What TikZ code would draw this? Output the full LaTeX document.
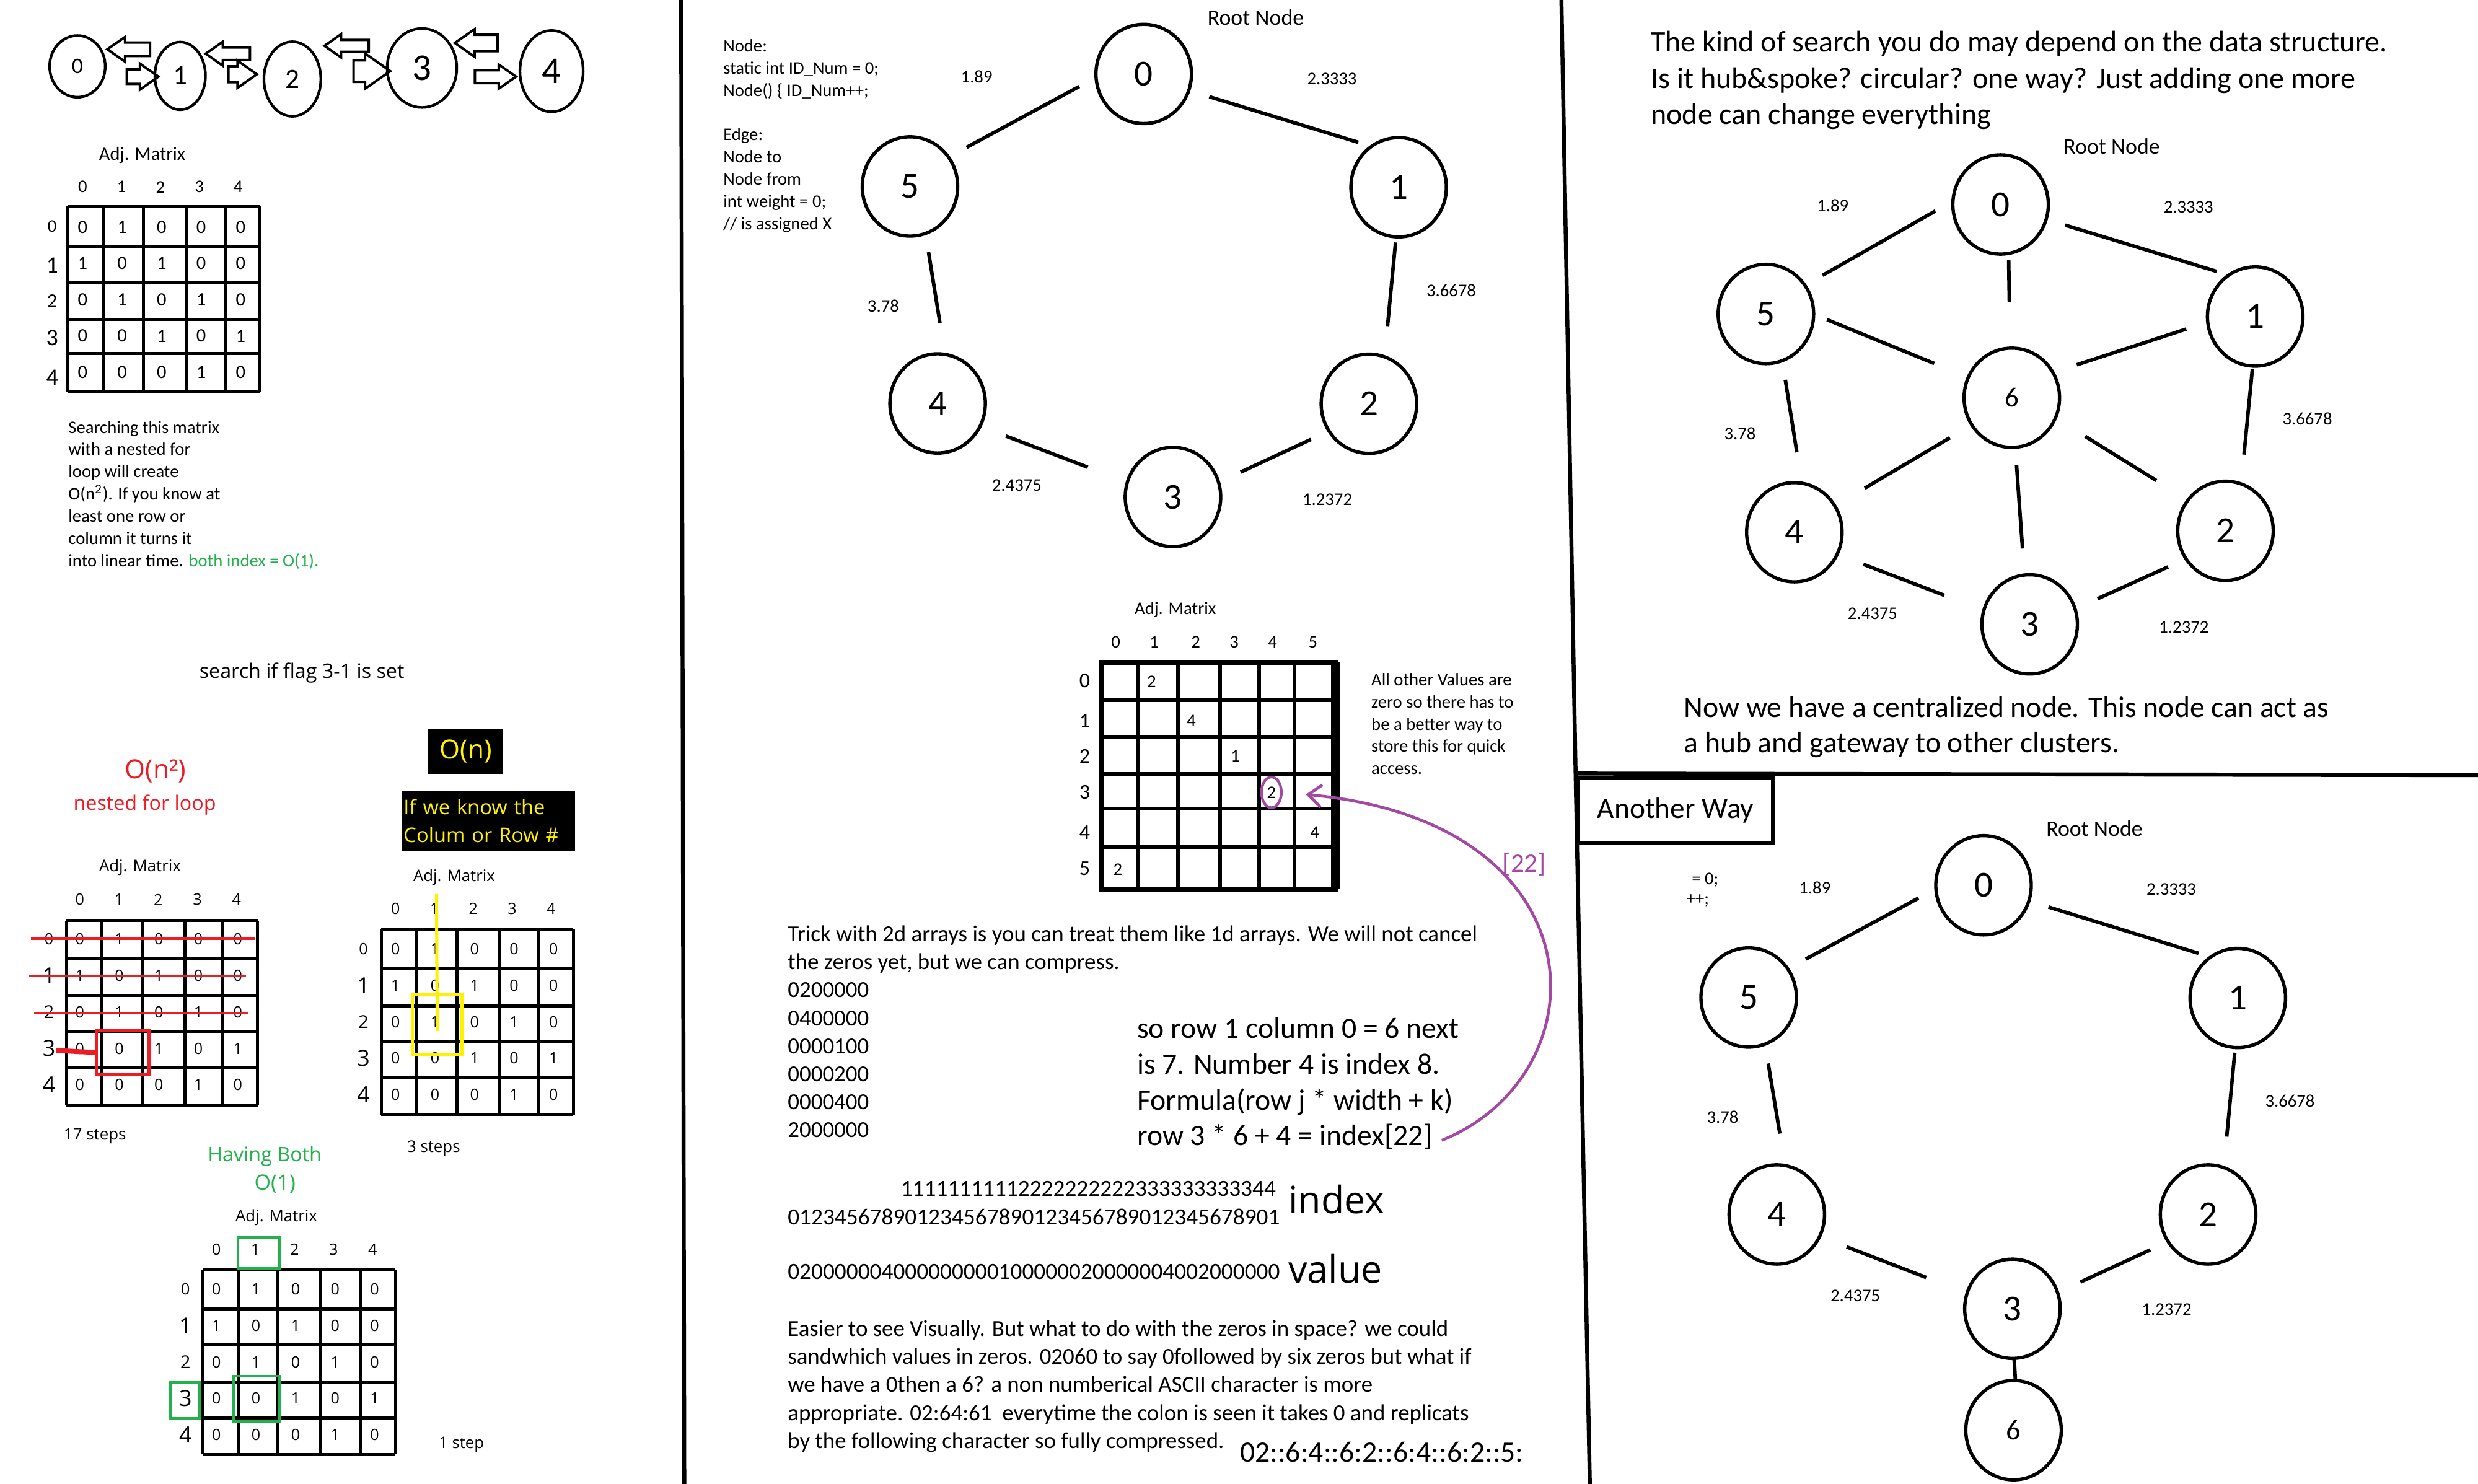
\documentclass[tikz,border=0pt]{standalone}
\usepackage{fontspec}
\setmainfont{Carlito}
\newfontfamily\segoe{Open Sans}
\usetikzlibrary{shapes.geometric,shapes.arrows,arrows.meta}
\definecolor{paintred}{HTML}{ED1C24}
\definecolor{paintyellow}{HTML}{FFF200}
\definecolor{paintgreen}{HTML}{22B14C}
\definecolor{paintpurple}{HTML}{A349A4}
\tikzset{
  gnode/.style={ellipse, draw, line width=1.5pt, inner sep=0pt, minimum width=1.51cm, minimum height=1.57cm, font=\fontsize{16.5}{18}\selectfont},
  lnode/.style={ellipse, draw, line width=1.2pt, inner sep=0pt},
  blockarrow/.style 2 args={single arrow, draw, line width=1.1pt, single arrow tip angle=70, single arrow head extend=0.09cm, inner sep=#1, minimum height=#2},
  edge/.style={line width=1.6pt},
  weight/.style={inner sep=0pt, font=\fontsize{8}{10}\selectfont},
  note/.style={inner sep=0pt, anchor=north west, align=left},
  gridline/.style={line width=1.4pt},
  cell/.style={inner sep=0pt, font=\fontsize{8.5}{10}\selectfont},
  scell/.style={inner sep=0pt, font=\segoe\fontsize{7}{9}\selectfont},
  stext/.style={inner sep=0pt, font=\segoe\fontsize{7.2}{9}\selectfont},
  sepline/.style={line width=1.8pt}
}
\begin{document}
\begin{tikzpicture}[x=0.025cm, y=-0.025cm]
\fill[white] (0,0) rectangle (1568,939);
\useasboundingbox (0,0) rectangle (1568,939);

% linked list
\node[lnode, minimum width=0.88cm, minimum height=0.975cm, font=\fontsize{10}{12}\selectfont] (ln0) at (49,42) {0};
\node[lnode, minimum width=0.8cm, minimum height=1.07cm, font=\fontsize{12.6}{14}\selectfont] (ln1) at (114,48) {1};
\node[lnode, minimum width=0.9cm, minimum height=1.18cm, font=\fontsize{12.6}{14}\selectfont] (ln2) at (185,50) {2};
\node[lnode, minimum width=1.1cm, minimum height=1.25cm, font=\fontsize{17}{19}\selectfont] (ln3) at (267,43) {3};
\node[lnode, minimum width=1.0cm, minimum height=1.285cm, font=\fontsize{17}{19}\selectfont] (ln4) at (349,45) {4};
\node[blockarrow={0.0875cm}{0.675cm}, shape border rotate=180] (la01) at (84.5,31.2) {};
\node[blockarrow={0.095cm}{0.5cm}] (ra01) at (87,48.5) {};
\node[blockarrow={0.08cm}{0.7cm}, shape border rotate=180] (la12) at (147,34) {};
\node[blockarrow={0.105cm}{0.45cm}] (ra12) at (150,47) {};
\node[blockarrow={0.075cm}{0.7cm}, shape border rotate=180] (la23) at (222,29) {};
\node[blockarrow={0.15cm}{0.475cm}, single arrow head extend=0.11cm] (ra23) at (230.5,45) {};
\node[blockarrow={0.11cm}{0.675cm}, shape border rotate=180] (la34) at (305,27.2) {};
\node[blockarrow={0.0825cm}{0.65cm}] (ra34) at (310.6,48.5) {};

% adjacency matrix
\node[cell] (adjA) at (90,98.2) {Adj. Matrix};
\foreach \h [count=\ci from 0] in {0,...,4}
  \node[cell, font=\fontsize{8}{9}\selectfont] (adjAh\ci) at (52.3+24.6*\ci,118.3) {\h};
\foreach \lab/\sz/\yy in {0/8/143.2,1/10.6/168,2/9/190.5,3/10.6/213.7,4/10.6/239}
  \node[inner sep=0pt, font=\fontsize{\sz}{12}\selectfont] (adjAr\lab) at (33,\yy) {\lab};
\foreach \xx in {42.6,65.2,90.8,117.7,142.7,164.5}
  \draw[gridline] (\xx,130.6) -- (\xx,247.7);
\foreach \yy in {130.6,156.2,178.7,202.3,223.6,247.7}
  \draw[gridline] (42.6,\yy) -- (164.5,\yy);
\foreach \row [count=\ri from 0] in {{0,1,0,0,0},{1,0,1,0,0},{0,1,0,1,0},{0,0,1,0,1},{0,0,0,1,0}}
  \foreach \v [count=\ci from 0] in \row
    \node[cell] (adjA\ri\ci) at (52.3+25*\ci,143.6+23*\ri) {\v};
\node[note, font=\fontsize{8}{10}\selectfont] (searchnote) at (43,266) {Searching this matrix\\with a nested for\\loop will create\\O(n\textsuperscript{2}). If you know at\\least one row or\\column it turns it\\into linear time. \textcolor{paintgreen}{both index = O(1).}};

% search for flag 3-1
\node[inner sep=0pt, font=\segoe\fontsize{9}{11}\selectfont] (flagq) at (191,426) {search if flag 3-1 is set};
\node[inner sep=0pt, text=paintred, font=\segoe\fontsize{11.8}{14}\selectfont] (onsq) at (98.4,488) {O(n²)};
\node[inner sep=0pt, text=paintred, font=\segoe\fontsize{9}{11}\selectfont] (nested) at (91.6,509.4) {nested for loop};
\node[fill=black, text=paintyellow, inner sep=0pt, minimum width=1.19cm, minimum height=0.71cm, font=\segoe\fontsize{11.8}{14}\selectfont] (onbox) at (294.7,475.6) {O(n)};
\node[fill=black, text=paintyellow, inner xsep=1pt, inner ysep=0pt, text width=2.677cm, minimum height=0.96cm, align=left, font=\segoe\fontsize{9.1}{12.5}\selectfont] (knowbox) at (309,519.5) {If we know the\\Colum or Row \#};

% nested loop matrix
\node[stext] (adjB) at (88.6,549) {Adj. Matrix};
\foreach \h [count=\ci from 0] in {0,...,4}
  \node[scell] (adjBh\ci) at (50.5+24.8*\ci,569.3) {\h};
\foreach \lab/\sz [count=\ri from 0] in {0/7,1/10,2/8,3/10,4/10}
  \node[inner sep=0pt, font=\segoe\fontsize{\sz}{12}\selectfont] (adjBr\lab) at (31,594.3+23.05*\ri) {\lab};
\foreach \xx in {42.1,64.6,90,117.1,141.1,163}
  \draw[gridline] (\xx,582.6) -- (\xx,699.2);
\foreach \yy in {582.6,606.2,629.8,652.8,675.3,699.2}
  \draw[gridline] (42.1,\yy) -- (163,\yy);
\foreach \row [count=\ri from 0] in {{0,1,0,0,0},{1,0,1,0,0},{0,1,0,1,0},{0,0,1,0,1},{0,0,0,1,0}}
  \foreach \v [count=\ci from 0] in \row
    \node[scell] (adjB\ri\ci) at (50.5+25*\ci,594.3+23.05*\ri) {\v};
\draw[paintred, line width=1.3pt] (19.6,594) -- (161.4,594);
\draw[paintred, line width=1.3pt] (17.9,617.5) -- (155.8,617.5);
\draw[paintred, line width=1.3pt] (21.4,641.1) -- (157.3,641.1);
\node[draw=paintred, line width=1.3pt, inner sep=0pt, minimum width=0.8275cm, minimum height=0.7025cm] (redcell) at (77.75,666) {};
\coordinate (redstart) at (35.4,664.7);
\draw[paintred, line width=2.2pt] (redstart) -- (redcell.west);
\node[stext] (steps17) at (60.1,718.7) {17 steps};

% row known matrix
\node[stext] (adjC) at (287.4,555.1) {Adj. Matrix};
\foreach \h [count=\ci from 0] in {0,...,4}
  \node[scell] (adjCh\ci) at (250.3+24.6*\ci,575.1) {\h};
\foreach \lab/\sz [count=\ri from 0] in {0/7,1/10,2/8,3/10,4/10}
  \node[inner sep=0pt, font=\segoe\fontsize{\sz}{12}\selectfont] (adjCr\lab) at (230,600.6+23*\ri) {\lab};
\foreach \xx in {241.3,263.8,289,316.3,340.8,362.8}
  \draw[gridline] (\xx,588.2) -- (\xx,705.2);
\foreach \yy in {588.2,613,636.6,659.1,681.6,705.2}
  \draw[gridline] (241.3,\yy) -- (362.8,\yy);
\foreach \row [count=\ri from 0] in {{0,1,0,0,0},{1,0,1,0,0},{0,1,0,1,0},{0,0,1,0,1},{0,0,0,1,0}}
  \foreach \v [count=\ci from 0] in \row
    \node[scell] (adjC\ri\ci) at (250.3+25*\ci,600.6+23*\ri) {\v};
\node[draw=paintyellow, line width=1.4pt, inner sep=0pt, minimum width=0.7875cm, minimum height=0.94cm] (ycell) at (276.65,648.2) {};
\coordinate (ytop) at (276.2,565.7);
\draw[paintyellow, line width=1.4pt] (ytop) -- ([yshift=-3pt]ycell.center);
\node[stext] (steps3) at (274.4,726.6) {3 steps};

% both known matrix
\node[inner sep=0pt, text=paintgreen, font=\segoe\fontsize{9}{11}\selectfont] (havingboth) at (167.5,731.8) {Having Both};
\node[inner sep=0pt, text=paintgreen, font=\segoe\fontsize{9.5}{11}\selectfont] (oone) at (174,749.1) {O(1)};
\node[stext] (adjD) at (174.9,770.5) {Adj. Matrix};
\foreach \h [count=\ci from 0] in {0,...,4}
  \node[scell] (adjDh\ci) at (137+24.7*\ci,790.5) {\h};
\foreach \lab/\sz [count=\ri from 0] in {0/7,1/10,2/8,3/10,4/10}
  \node[inner sep=0pt, font=\segoe\fontsize{\sz}{12}\selectfont] (adjDr\lab) at (117.4,815.9+23*\ri) {\lab};
\foreach \xx in {128.4,150.7,176,203,228,250.3}
  \draw[gridline] (\xx,803.4) -- (\xx,920.3);
\foreach \yy in {803.4,828.3,851.2,874.8,897.4,920.3}
  \draw[gridline] (128.4,\yy) -- (250.3,\yy);
\foreach \row [count=\ri from 0] in {{0,1,0,0,0},{1,0,1,0,0},{0,1,0,1,0},{0,0,1,0,1},{0,0,0,1,0}}
  \foreach \v [count=\ci from 0] in \row
    \node[scell] (adjD\ri\ci) at (137+25*\ci,815.9+23*\ri) {\v};
\node[draw=paintgreen, line width=1.3pt, inner sep=0pt, minimum width=0.6525cm, minimum height=0.49cm] (gcol) at (163.65,792.7) {};
\node[draw=paintgreen, line width=1.3pt, inner sep=0pt, minimum width=0.4625cm, minimum height=0.5725cm] (grow) at (117.25,886.25) {};
\node[draw=paintgreen, line width=1.3pt, inner sep=0pt, minimum width=0.7275cm, minimum height=0.715cm] (gcell) at (162.25,885.1) {};
\node[stext] (step1) at (292,914.2) {1 step};

% separators
\draw[sepline] (431,0) -- (433,939);
\draw[sepline] (988,0) -- (997,490) -- (1006,939);
\draw[sepline] (997,489.5) -- (1568,490.5);

% ring of six nodes
\node[note, font=\fontsize{8}{10}\selectfont] (nodedef) at (457.4,24.6) {Node:\\static int ID\_Num = 0;\\Node() \{ ID\_Num++;\\[10pt]Edge:\\Node to\\Node from\\int weight = 0;\\// is assigned X};
\node[inner sep=0pt, font=\fontsize{10}{12}\selectfont] (rootM) at (794.6,11.1) {Root Node};
\node[gnode] (m0) at (723.7,46.8) {0};
\node[gnode] (m1) at (885,118.5) {1};
\node[gnode] (m2) at (866.2,255.5) {2};
\node[gnode] (m3) at (742.2,314.5) {3};
\node[gnode] (m4) at (593.3,255.3) {4};
\node[gnode] (m5) at (575.8,118) {5};
\draw[edge, shorten <=7.8pt, shorten >=8.5pt] (m0.185) -- (m5.37);
\draw[edge, shorten <=8.9pt, shorten >=5.3pt] (m0.-20) -- (m1.125);
\draw[edge, shorten <=1.8pt, shorten >=13.1pt] (m1.-93) -- (m2.72);
\draw[edge, shorten <=8.2pt, shorten >=10.2pt] (m2.214) -- (m3.18);
\draw[edge, shorten <=18.3pt, shorten >=11.7pt] (m3.162) -- (m4.-28);
\draw[edge, shorten <=13.4pt, shorten >=7.8pt] (m4.82) -- (m5.-72);
\node[weight] (wm05) at (618,48.6) {1.89};
\node[weight] (wm01) at (842.8,49.8) {2.3333};
\node[weight] (wm12) at (918.3,183.7) {3.6678};
\node[weight] (wm23) at (839.9,316) {1.2372};
\node[weight] (wm34) at (643.4,307) {2.4375};
\node[weight] (wm45) at (558.9,193.7) {3.78};

% sparse matrix
\node[weight] (adjE) at (743.7,386) {Adj. Matrix};
\foreach \h/\xx in {0/706,1/730.2,2/756.6,3/780.9,4/805.2,5/830.8}
  \node[weight] (adjEh\h) at (\xx,406.2) {\h};
\foreach \h/\yy in {0/430.7,1/456.2,2/478.6,3/501.2,4/526.7,5/549.6}
  \node[inner sep=0pt, font=\fontsize{9.5}{11}\selectfont] (adjEr\h) at (686.4,\yy) {\h};
\foreach \xx in {720.1,745.3,771.9,796.6,819.1}
  \draw[line width=1.8pt] (\xx,419.3) -- (\xx,562.7);
\foreach \yy in {443.1,466.3,489.9,511.7,536.1}
  \draw[line width=1.8pt] (697,\yy) -- (845,\yy);
\draw[line width=2.5pt] (697,419.3) rectangle (845,562.7);
\draw[line width=4pt] (845,419.3) -- (845,562.7);
\node[weight] (adjE01) at (728.7,431.3) {2};
\node[weight] (adjE12) at (753.9,456.2) {4};
\node[weight] (adjE23) at (781.6,478.4) {1};
\node[ellipse, draw=paintpurple, line width=1.2pt, inner sep=0pt, minimum width=0.315cm, minimum height=0.485cm, font=\fontsize{8}{10}\selectfont] (ring) at (804.5,501.4) {2};
\node[weight] (adjE45) at (832,526.7) {4};
\node[weight] (adjE50) at (707.3,550.3) {2};
\node[note, font=\fontsize{8}{10}\selectfont] (zeronote) at (867.5,425.7) {All other Values are\\zero so there has to\\be a better way to\\store this for quick\\access.};

% flattening
\node[note, font=\fontsize{10.3}{12.6}\selectfont] (tricknote) at (498.2,585.5) {Trick with 2d arrays is you can treat them like 1d arrays. We will not cancel\\the zeros yet, but we can compress.\\0200000\\0400000\\0000100\\0000200\\0000400\\2000000};
\node[note, font=\fontsize{13.3}{16.1}\selectfont] (formula) at (719.3,643.7) {so row 1 column 0 = 6 next\\is 7. Number 4 is index 8.\\Formula(row j * width + k)\\row 3 * 6 + 4 = index[22]};
\coordinate (arrstart) at (912.3,721.6);
\draw[paintpurple, line width=1.3pt, -{Straight Barb[length=6pt,width=10pt]}, shorten >=10.5pt] (arrstart) .. controls (1015,680) and (1015,520) .. (ring.east);
\node[inner sep=0pt, text=paintpurple, font=\fontsize{12}{14}\selectfont] (idx22) at (964.5,547) {[22]};
\node[inner sep=0pt, anchor=east, font=\fontsize{10.4}{12}\selectfont] (idxtens) at (807.5,752.2) {11111111112222222222333333333344};
\node[inner sep=0pt, anchor=west, font=\fontsize{10.4}{12}\selectfont] (idxunits) at (498.2,769.9) {012345678901234567890123456789012345678901};
\node[inner sep=0pt, anchor=west, font=\segoe\fontsize{17}{20}\selectfont] (idxword) at (815,759) {index};
\node[inner sep=0pt, anchor=west, font=\fontsize{10.4}{12}\selectfont] (values) at (498.2,804.7) {020000004000000000100000020000004002000000};
\node[inner sep=0pt, anchor=west, font=\segoe\fontsize{17}{20}\selectfont] (valword) at (815,802.8) {value};
\node[note, font=\fontsize{10.3}{12.6}\selectfont] (easiernote) at (498.2,835.2) {Easier to see Visually. But what to do with the zeros in space? we could\\sandwhich values in zeros. 02060 to say 0followed by six zeros but what if\\we have a 0then a 6? a non numberical ASCII character is more\\appropriate. 02:64:61\ \ everytime the colon is seen it takes 0 and replicats\\by the following character so fully compressed.};
\node[inner sep=0pt, anchor=west, font=\fontsize{13.3}{16}\selectfont] (compressed) at (784.3,919) {02::6:4::6:2::6:4::6:2::5:};

% hub and spoke
\node[note, font=\fontsize{13.4}{16.3}\selectfont] (kindnote) at (1044.4,19.5) {The kind of search you do may depend on the data structure.\\Is it hub\&spoke? circular? one way? Just adding one more\\node can change everything};
\node[inner sep=0pt, font=\fontsize{10}{12}\selectfont] (rootH) at (1336.3,92.6) {Root Node};
\node[gnode] (h0) at (1265.9,129.4) {0};
\node[gnode] (h1) at (1427,200.3) {1};
\node[gnode] (h2) at (1408.2,335.9) {2};
\node[gnode] (h3) at (1284.3,395.1) {3};
\node[gnode] (h4) at (1135.4,336.8) {4};
\node[gnode] (h5) at (1117.4,198.7) {5};
\node[gnode, font=\fontsize{12.5}{14}\selectfont] (h6) at (1273,251.7) {6};
\draw[edge, shorten <=8.3pt, shorten >=8.4pt] (h0.177) -- (h5.36);
\draw[edge, shorten <=8.2pt, shorten >=4.8pt] (h0.-18) -- (h1.124);
\draw[edge, shorten <=2.1pt, shorten >=19.9pt] (h0.-81) -- (h6.92);
\draw[edge, shorten <=5.7pt, shorten >=15.8pt] (h5.-1) -- (h6.155);
\draw[edge, shorten <=9.4pt, shorten >=10.5pt] (h1.-173) -- (h6.31);
\draw[edge, shorten <=0.6pt, shorten >=12.5pt] (h1.-93) -- (h2.72);
\draw[edge, shorten <=8pt, shorten >=13.3pt] (h5.-71) -- (h4.82);
\draw[edge, shorten <=10.7pt, shorten >=14.9pt] (h6.-146) -- (h4.33);
\draw[edge, shorten <=15pt, shorten >=16pt] (h6.-25) -- (h2.141);
\draw[edge, shorten <=7.4pt, shorten >=11.2pt] (h6.-86) -- (h3.96);
\draw[edge, shorten <=11.9pt, shorten >=18.3pt] (h4.-27) -- (h3.163);
\draw[edge, shorten <=8.1pt, shorten >=10.4pt] (h2.-145) -- (h3.19);
\node[weight] (wh05) at (1159.7,130) {1.89};
\node[weight] (wh01) at (1384.8,130.9) {2.3333};
\node[weight] (wh12) at (1460,265) {3.6678};
\node[weight] (wh45) at (1101,274.3) {3.78};
\node[weight] (wh34) at (1184.9,388.1) {2.4375};
\node[weight] (wh23) at (1381.9,396.8) {1.2372};
\node[note, font=\fontsize{13.3}{15.9}\selectfont] (hubnote) at (1065.2,440.5) {Now we have a centralized node. This node can act as\\a hub and gateway to other clusters.};

% another way
\node[draw, line width=1.5pt, anchor=north west, minimum width=3.075cm, minimum height=1.0225cm, font=\fontsize{13.2}{15}\selectfont] (another) at (997.7,491.4) {Another Way};
\node[weight] (resA) at (1079,556.8) {= 0;};
\node[weight] (resB) at (1074.3,569.8) {++;};
\node[inner sep=0pt, font=\fontsize{10}{12}\selectfont] (rootB) at (1325.3,524.3) {Root Node};
\node[gnode] (b0) at (1255.1,560.2) {0};
\node[gnode] (b1) at (1416,631.5) {1};
\node[gnode] (b2) at (1397.2,768.5) {2};
\node[gnode] (b3) at (1273.4,828.2) {3};
\node[gnode] (b4) at (1124.3,768.5) {4};
\node[gnode] (b5) at (1106.5,631.2) {5};
\node[gnode, font=\fontsize{13}{15}\selectfont] (b6) at (1274.1,905) {6};
\draw[edge, shorten <=8.1pt, shorten >=8.5pt] (b0.-175) -- (b5.36);
\draw[edge, shorten <=8.5pt, shorten >=4.8pt] (b0.-19) -- (b1.125);
\draw[edge, shorten <=1.6pt, shorten >=13.2pt] (b1.-93) -- (b2.72);
\draw[edge, shorten <=8.1pt, shorten >=13.8pt] (b5.-71) -- (b4.81);
\draw[edge, shorten <=12.3pt, shorten >=19pt] (b4.-27) -- (b3.161);
\draw[edge, shorten <=8.1pt, shorten >=10.6pt] (b2.-146) -- (b3.20);
\draw[edge] (b3.-88) -- (b6.88);
\node[weight] (wb05) at (1148.4,561.7) {1.89};
\node[weight] (wb01) at (1373.9,562.6) {2.3333};
\node[weight] (wb12) at (1449,696.7) {3.6678};
\node[weight] (wb45) at (1090,706.8) {3.78};
\node[weight] (wb34) at (1174,820.1) {2.4375};
\node[weight] (wb23) at (1371,828.8) {1.2372};
\end{tikzpicture}
\end{document}
